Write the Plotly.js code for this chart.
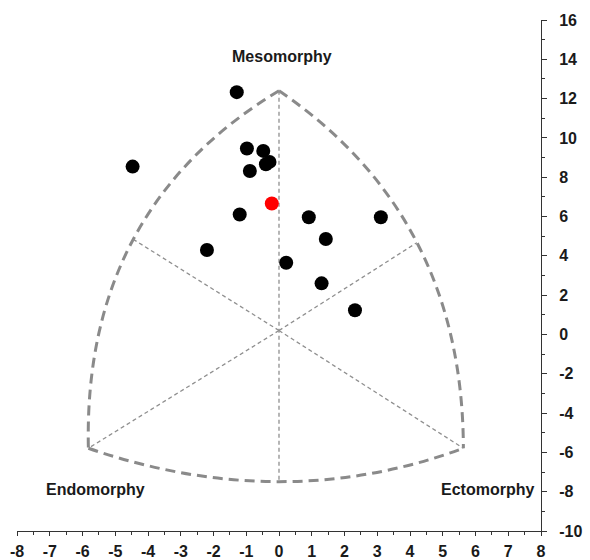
<!DOCTYPE html>
<html>
<head>
<meta charset="utf-8">
<script src="https://cdn.plot.ly/plotly-3.0.1.min.js"></script>
<style>html,body{margin:0;padding:0;background:#fff;}#chart{width:590px;height:560px;}</style>
</head>
<body>
<div id="chart"></div>
<script>
// Subject somatotype points (x = ecto - endo, y = 2*meso - (endo + ecto))
const subjectX = [-1.29, -4.47, -0.98, -0.48, -0.29, -0.40, -0.89, -1.20, 0.91, 3.11, 1.43, -2.20, 0.22, 1.30, 2.32];
const subjectY = [12.33, 8.54, 9.46, 9.34, 8.78, 8.66, 8.32, 6.10, 5.96, 5.96, 4.86, 4.30, 3.65, 2.60, 1.23];
// Mean somatotype (red)
const meanX = [-0.22];
const meanY = [6.66];

// Somatochart frame: vertices, arc control points, centre, arc midpoints
const vertexMeso = [0, 12.4];
const vertexEndo = [-5.82, -5.79];
const vertexEcto = [5.63, -5.79];
const ctrlLeft = [-5.99, 6.38];
const ctrlRight = [5.61, 6.04];
const ctrlBottom = [0.1, -9.19];
const centre = [0, 0.2];
const midLeft = [-4.45, 4.84];
const midRight = [4.21, 4.67];
const midBottom = [0, -7.49];

const axisLabels = ['Mesomorphy', 'Endomorphy', 'Ectomorphy'];
const labelX = [0.09, -5.59, 6.38];
const labelY = [14.12, -7.89, -7.91];

const xTicks = [-8,-7,-6,-5,-4,-3,-2,-1,0,1,2,3,4,5,6,7,8];
const yTicks = [-10,-8,-6,-4,-2,0,2,4,6,8,10,12,14,16];

const p = a => a[0] + ',' + a[1];
const outline = {color: '#8a8a8a', width: 3, dash: '10px,6px'};
const inner = {color: '#8f8f8f', width: 1.3, dash: '4px,3px'};

const shapes = [
  {type: 'path', path: 'M ' + p(vertexMeso) + ' Q ' + p(ctrlLeft) + ' ' + p(vertexEndo), line: outline},
  {type: 'path', path: 'M ' + p(vertexMeso) + ' Q ' + p(ctrlRight) + ' ' + p(vertexEcto), line: outline},
  {type: 'path', path: 'M ' + p(vertexEndo) + ' Q ' + p(ctrlBottom) + ' ' + p(vertexEcto), line: outline},
  {type: 'line', x0: vertexMeso[0], y0: vertexMeso[1], x1: midBottom[0], y1: midBottom[1], line: inner},
  {type: 'line', x0: centre[0], y0: centre[1], x1: midLeft[0], y1: midLeft[1], line: inner},
  {type: 'line', x0: centre[0], y0: centre[1], x1: midRight[0], y1: midRight[1], line: inner},
  {type: 'line', x0: centre[0], y0: centre[1], x1: vertexEndo[0], y1: vertexEndo[1], line: inner},
  {type: 'line', x0: centre[0], y0: centre[1], x1: vertexEcto[0], y1: vertexEcto[1], line: inner}
].map(s => Object.assign({xref: 'x', yref: 'y', layer: 'below'}, s));

const traces = [
  {x: subjectX, y: subjectY, type: 'scatter', mode: 'markers', marker: {color: '#000000', size: 14}, hoverinfo: 'x+y'},
  {x: meanX, y: meanY, type: 'scatter', mode: 'markers', marker: {color: '#ff0000', size: 14}, hoverinfo: 'x+y'}
];

const annotations = axisLabels.map((t, i) => ({
  x: labelX[i], y: labelY[i], xref: 'x', yref: 'y', text: '<b>' + t + '</b>', showarrow: false,
  font: {family: 'Liberation Sans, Arial, sans-serif', size: 16, color: '#1a1a1a'}
}));

const tickFont = {family: 'Liberation Sans, Arial, sans-serif', size: 16, color: '#1a1a1a'};

const layout = {
  width: 590, height: 560,
  margin: {l: 17, r: 49, t: 20, b: 29, pad: 0},
  paper_bgcolor: '#ffffff', plot_bgcolor: '#ffffff',
  showlegend: false,
  xaxis: {
    range: [-8, 8], tickmode: 'array', tickvals: xTicks, ticktext: xTicks.map(v => '<b>' + v + '</b>'),
    showgrid: false, zeroline: false, showline: true, linecolor: '#333333', linewidth: 1,
    ticks: 'outside', ticklen: 4, tickcolor: '#333333', tickfont: tickFont, ticklabelstandoff: 2,
    minor: {dtick: 0.5, tick0: 0, ticks: 'outside', ticklen: 3, tickcolor: '#333333', showgrid: false},
    fixedrange: true
  },
  yaxis: {
    range: [-10, 16], side: 'right', tickmode: 'array', tickvals: yTicks, ticktext: yTicks.map(v => '<b>' + v + '</b>'),
    showgrid: false, zeroline: false, showline: true, linecolor: '#333333', linewidth: 1,
    ticks: 'outside', ticklen: 5, tickcolor: '#333333', tickfont: tickFont, ticklabelstandoff: 9,
    minor: {dtick: 1, tick0: 0, ticks: 'outside', ticklen: 3, tickcolor: '#333333', showgrid: false},
    fixedrange: true
  },
  shapes: shapes,
  annotations: annotations
};

Plotly.newPlot('chart', traces, layout, {displayModeBar: false, staticPlot: true});
</script>
</body>
</html>
